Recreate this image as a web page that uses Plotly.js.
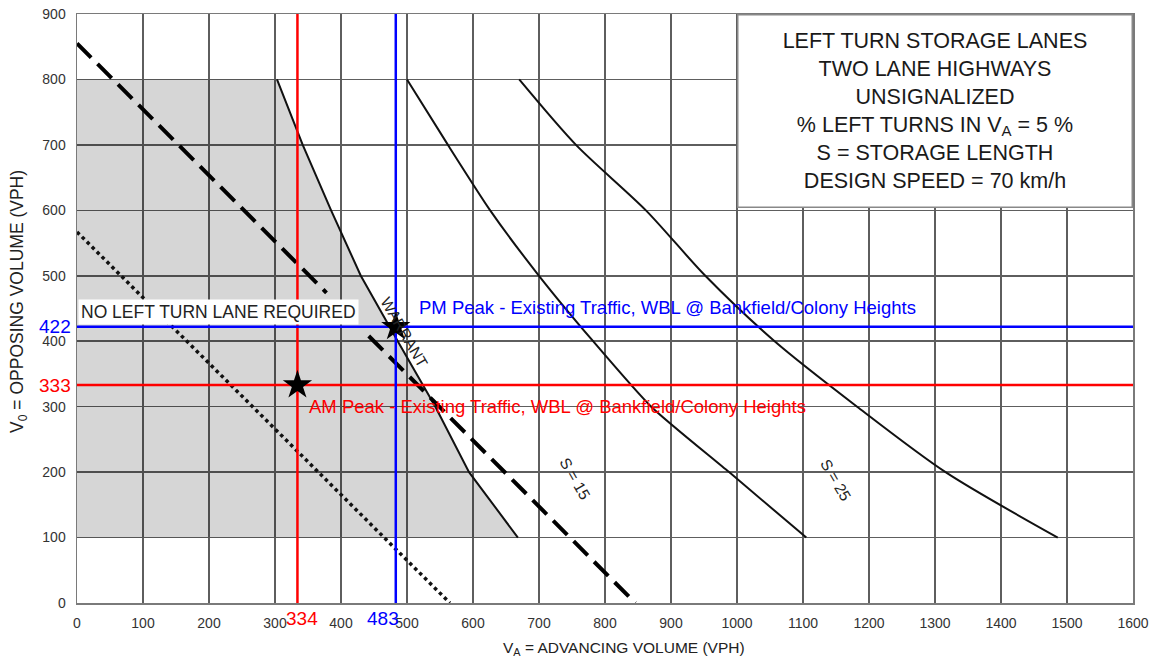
<!DOCTYPE html>
<html>
<head>
<meta charset="utf-8">
<script src="https://cdn.plot.ly/plotly-3.0.1.min.js"></script>
<style>
  html, body { margin: 0; padding: 0; background: #fff; }
  #chart { width: 1157px; height: 662px; }
</style>
</head>
<body>
<div id="chart"></div>
<script>
// ---- data ----
const xTicks = [0,100,200,300,400,500,600,700,800,900,1000,1100,1200,1300,1400,1500,1600];
const yTicks = [0,100,200,300,400,500,600,700,800,900];

// Warrant curve (boundary of "no left turn lane required")
const warrantX = [303, 342, 385, 430, 486, 543, 594, 668];
const warrantY = [800, 700, 600, 500, 400, 300, 200, 100];

// Shaded region corners on the left side
const shadeLeftX = [0, 0];
const shadeLeftY = [100, 800];

// S = 15 curve
const s15X = [500, 562, 626, 700, 782, 870, 988, 1105];
const s15Y = [800, 700, 600, 500, 400, 300, 200, 100];

// S = 25 curve
const s25X = [670, 756, 862, 952, 1057, 1182, 1316, 1486];
const s25Y = [800, 700, 600, 500, 400, 300, 200, 100];

// Dashed line (with gap)
const dashX = [0, 378, null, 442, 846];
const dashY = [855, 474, null, 408, 0];

// Dotted line
const dotX = [0, 565];
const dotY = [567, 0];

// Study points
const amX = 334, amY = 333;
const pmX = 483, pmY = 422;

const xMax = 1600, yMax = 900;

// ---- traces ----
const shadeX = shadeLeftX.concat(warrantX);
const shadeY = shadeLeftY.concat(warrantY);

const traces = [
  { x: shadeX, y: shadeY, mode: 'lines', fill: 'toself',
    fillcolor: 'rgba(0,0,0,0.16)', line: {width: 0, color: 'rgba(0,0,0,0)'}, hoverinfo: 'skip' },
  { x: warrantX, y: warrantY, mode: 'lines', line: {color: '#111', width: 2}, hoverinfo: 'skip' },
  { x: s15X, y: s15Y, mode: 'lines', line: {color: '#111', width: 2, shape: 'spline', smoothing: 0.6}, hoverinfo: 'skip' },
  { x: s25X, y: s25Y, mode: 'lines', line: {color: '#111', width: 2, shape: 'spline', smoothing: 0.8}, hoverinfo: 'skip' },
  { x: dashX, y: dashY, mode: 'lines', connectgaps: false, line: {color: '#000', width: 4, dash: '20px,9px'}, hoverinfo: 'skip' },
  { x: dotX, y: dotY, mode: 'lines', line: {color: '#111', width: 3.5, dash: '3.5px,3.5px'}, hoverinfo: 'skip' },
  // AM lines
  { x: [amX, amX], y: [0, yMax], mode: 'lines', line: {color: '#ff0000', width: 2.5}, hoverinfo: 'skip' },
  { x: [0, xMax], y: [amY, amY], mode: 'lines', line: {color: '#ff0000', width: 2.5}, hoverinfo: 'skip' },
  // PM lines
  { x: [pmX, pmX], y: [0, yMax], mode: 'lines', line: {color: '#0000ff', width: 2.5}, hoverinfo: 'skip' },
  { x: [0, xMax], y: [pmY, pmY], mode: 'lines', line: {color: '#0000ff', width: 2.5}, hoverinfo: 'skip' },
  // stars
  { x: [amX, pmX], y: [amY, pmY], mode: 'markers',
    marker: {symbol: 'star', size: 22, color: '#000', line: {width: 0}}, hoverinfo: 'skip' }
];

const FONT = 'Liberation Sans, Arial, Helvetica, sans-serif';

const annotations = [
  { xref: 'paper', yref: 'paper', x: 1, y: 1, xanchor: 'right', yanchor: 'top',
    text: 'LEFT TURN STORAGE LANES<br>TWO LANE HIGHWAYS<br>UNSIGNALIZED<br>% LEFT TURNS IN V<sub>A</sub> = 5 %<br>S = STORAGE LENGTH<br>DESIGN SPEED = 70 km/h',
    showarrow: false, align: 'center', valign: 'middle', width: 393, height: 191,
    bgcolor: '#ffffff', bordercolor: '#888', borderwidth: 1.5, borderpad: 0,
    font: {family: FONT, size: 21.5, color: '#1a1a1a'} },
  { x: 214, y: 444, xref: 'x', yref: 'y', text: 'NO LEFT TURN LANE REQUIRED', showarrow: false,
    bgcolor: '#ffffff', borderpad: 2, font: {family: FONT, size: 17.5, color: '#222'} },
  { x: 496, y: 413, xref: 'x', yref: 'y', text: 'WARRANT', showarrow: false, textangle: 60,
    font: {family: FONT, size: 15.5, color: '#222'} },
  { x: 755, y: 191, xref: 'x', yref: 'y', text: 'S = 15', showarrow: false, textangle: 60,
    font: {family: FONT, size: 15.5, color: '#222'} },
  { x: 1149, y: 188, xref: 'x', yref: 'y', text: 'S = 25', showarrow: false, textangle: 60,
    font: {family: FONT, size: 15.5, color: '#222'} },
  { x: pmX, y: pmY, xref: 'x', yref: 'y', xanchor: 'left', yanchor: 'middle', xshift: 21, yshift: 19,
    text: 'PM Peak - Existing Traffic, WBL @ Bankfield/Colony Heights', showarrow: false,
    font: {family: FONT, size: 18.5, color: '#0000ff'} },
  { x: amX, y: amY, xref: 'x', yref: 'y', xanchor: 'left', yanchor: 'middle', xshift: 10, yshift: -21,
    text: 'AM Peak - Existing Traffic, WBL @ Bankfield/Colony Heights', showarrow: false,
    font: {family: FONT, size: 18.5, color: '#ff0000'} },
  { x: 0, y: pmY, xref: 'x', yref: 'y', xanchor: 'right', yanchor: 'middle', xshift: -4,
    text: String(pmY), showarrow: false, font: {family: FONT, size: 19, color: '#0000ff'} },
  { x: 0, y: amY, xref: 'x', yref: 'y', xanchor: 'right', yanchor: 'middle', xshift: -4,
    text: String(amY), showarrow: false, font: {family: FONT, size: 19, color: '#ff0000'} },
  { x: amX, y: 0, xref: 'x', yref: 'y', xanchor: 'center', yanchor: 'top', xshift: 5, yshift: -3,
    text: String(amX), showarrow: false, font: {family: FONT, size: 19, color: '#ff0000'} },
  { x: pmX, y: 0, xref: 'x', yref: 'y', xanchor: 'center', yanchor: 'top', xshift: -13, yshift: -3,
    text: String(pmX), showarrow: false, font: {family: FONT, size: 19, color: '#0000ff'} },
  { xref: 'paper', yref: 'paper', x: 0.518, y: 0, yanchor: 'top', yshift: -34,
    text: 'V<sub>A</sub> = ADVANCING VOLUME (VPH)', showarrow: false,
    font: {family: FONT, size: 15.5, color: '#222'} },
  { xref: 'paper', yref: 'paper', x: 0, y: 0.511, xanchor: 'center', yanchor: 'middle', xshift: -59,
    textangle: -90, text: 'V<sub>0</sub> = OPPOSING VOLUME (VPH)', showarrow: false,
    font: {family: FONT, size: 17.5, color: '#222'} }
];

const axisCommon = {
  showgrid: true, gridcolor: '#5e5e5e', gridwidth: 1.5,
  zeroline: false, showline: true, linecolor: '#7a7a7a', linewidth: 1.5, mirror: true,
  ticks: 'outside', ticklen: 7, tickcolor: 'rgba(0,0,0,0)',
  tickfont: {family: FONT, size: 14, color: '#333'}, fixedrange: true
};

const layout = {
  width: 1157, height: 662,
  margin: {l: 77, r: 24, t: 14, b: 59},
  paper_bgcolor: '#ffffff', plot_bgcolor: '#ffffff',
  showlegend: false,
  xaxis: Object.assign({}, axisCommon, {range: [0, xMax], tickvals: xTicks, ticktext: xTicks.map(String)}),
  yaxis: Object.assign({}, axisCommon, {range: [0, yMax], tickvals: yTicks, ticktext: yTicks.map(String)}),
  annotations: annotations
};

Plotly.newPlot('chart', traces, layout, {displayModeBar: false, staticPlot: true});
</script>
</body>
</html>
